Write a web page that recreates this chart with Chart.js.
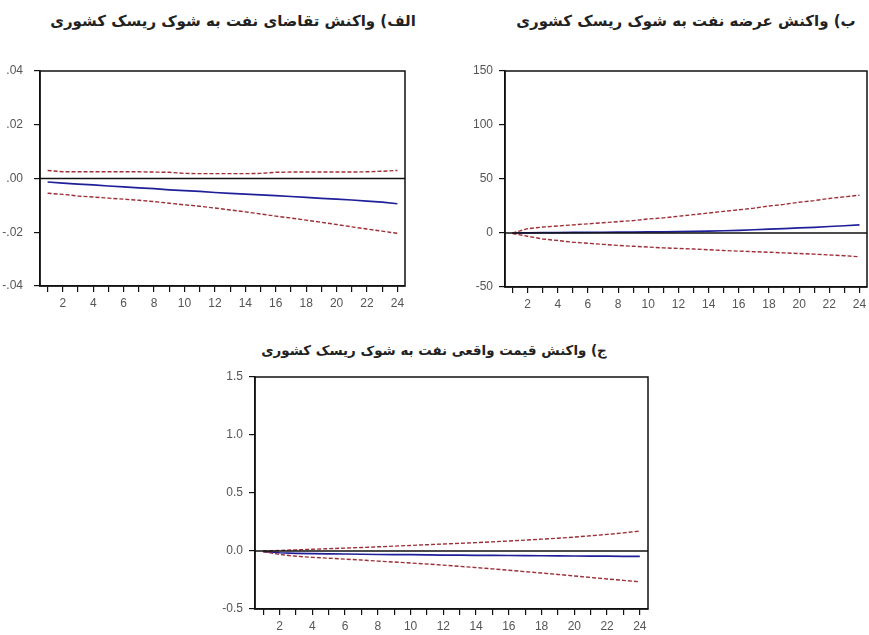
<!DOCTYPE html>
<html>
<head>
<meta charset="utf-8">
<script src="https://cdn.jsdelivr.net/npm/chart.js@4.4.1/dist/chart.umd.min.js"></script>
<style>
  body { margin: 0; background: #fff; width: 869px; height: 635px; position: relative; overflow: hidden; }
  canvas { position: absolute; }
  .title { position: absolute; font-family: "DejaVu Sans", sans-serif; font-weight: bold; font-size: 15px; color: #222; text-align: center; white-space: nowrap; }
</style>
</head>
<body>
<div class="title" dir="rtl" style="left:33px; width:400px; top:12px;">الف) واکنش تقاضای نفت به شوک ریسک کشوری</div>
<div class="title" dir="rtl" style="left:486px; width:400px; top:12px;">ب) واکنش عرضه نفت به شوک ریسک کشوری</div>
<div class="title" dir="rtl" style="left:234px; width:400px; top:343px; font-size:13.4px;">ج) واکنش قیمت واقعی نفت به شوک ریسک کشوری</div>

<canvas id="demand" width="420" height="250" style="left:0px; top:60px;"></canvas>
<canvas id="supply" width="409" height="250" style="left:460px; top:60px;"></canvas>
<canvas id="price" width="460" height="270" style="left:200px; top:365px;"></canvas>

<script>
// periods 1..24
var periods = ['1','2','3','4','5','6','7','8','9','10','11','12','13','14','15','16','17','18','19','20','21','22','23','24'];

// الف) demand response
var demandResp  = [-0.0013,-0.0017,-0.0021,-0.0024,-0.0028,-0.0031,-0.0035,-0.0038,-0.0042,-0.0045,-0.0048,-0.0052,-0.0055,-0.0058,-0.0061,-0.0064,-0.0067,-0.0070,-0.0074,-0.0077,-0.0080,-0.0084,-0.0088,-0.0094];
var demandUpper = [0.0030,0.0025,0.0025,0.0025,0.0025,0.0025,0.0025,0.0024,0.0023,0.0019,0.0018,0.0018,0.0018,0.0018,0.0019,0.0023,0.0024,0.0024,0.0024,0.0024,0.0024,0.0025,0.0027,0.0030];
var demandLower = [-0.0055,-0.0059,-0.0065,-0.0069,-0.0073,-0.0077,-0.0081,-0.0086,-0.0092,-0.0098,-0.0103,-0.0110,-0.0117,-0.0124,-0.0132,-0.0140,-0.0147,-0.0155,-0.0163,-0.0171,-0.0180,-0.0188,-0.0196,-0.0204];

// ب) supply response
var supplyResp  = [0,0.2,0.3,0.4,0.5,0.6,0.7,0.8,0.9,1.0,1.1,1.3,1.5,1.8,2.1,2.5,3.0,3.5,4.1,4.7,5.3,6.0,6.7,7.5];
var supplyUpper = [0,4,5.5,6.5,7.5,8.5,9.5,10.5,11.5,13,14,15.5,17,18.5,20,21.5,23,25,26.5,28.5,30,32,33.5,35];
var supplyLower = [-0.5,-3,-5.5,-7,-8.5,-9.5,-10.5,-11.5,-12.3,-13,-13.8,-14.3,-14.8,-15.5,-16.2,-16.8,-17.3,-17.8,-18.4,-19,-19.6,-20.3,-21,-22];

// ج) real price response
var priceResp  = [-0.005,-0.015,-0.02,-0.022,-0.024,-0.026,-0.028,-0.03,-0.031,-0.032,-0.034,-0.035,-0.036,-0.037,-0.038,-0.039,-0.04,-0.041,-0.042,-0.043,-0.044,-0.045,-0.046,-0.047];
var priceUpper = [0,0.005,0.01,0.015,0.02,0.025,0.03,0.036,0.042,0.048,0.054,0.06,0.066,0.072,0.079,0.086,0.094,0.102,0.11,0.12,0.131,0.143,0.156,0.172];
var priceLower = [-0.005,-0.03,-0.045,-0.055,-0.062,-0.07,-0.078,-0.087,-0.095,-0.103,-0.112,-0.122,-0.132,-0.143,-0.154,-0.166,-0.178,-0.19,-0.202,-0.215,-0.228,-0.241,-0.253,-0.266];

// frame + zero line, like the EViews output
var framePlugin = {
    id: 'frame',
    afterDatasetsDraw: function(chart) {
        var ctx = chart.ctx, a = chart.chartArea;
        var y0 = chart.scales.y.getPixelForValue(0);
        ctx.save();
        ctx.strokeStyle = '#111';
        ctx.lineWidth = 1.5;
        ctx.beginPath();
        ctx.moveTo(a.left, y0);
        ctx.lineTo(a.right, y0);
        ctx.stroke();
        ctx.strokeRect(a.left, a.top, a.right - a.left, a.bottom - a.top);
        ctx.restore();
    }
};

function makeChart(id, resp, upper, lower, yMin, yMax, yStep, fmt, yWidth, yPad, xHeight, padding) {
    return new Chart(document.getElementById(id).getContext('2d'), {
        type: 'line',
        data: {
            labels: periods,
            datasets: [
                { data: upper, borderColor: '#9e2f36', borderWidth: 1.4, borderDash: [4, 2], pointRadius: 0, fill: false },
                { data: lower, borderColor: '#9e2f36', borderWidth: 1.4, borderDash: [4, 2], pointRadius: 0, fill: false },
                { data: resp, borderColor: '#1f1f9a', borderWidth: 1.7, pointRadius: 0, fill: false }
            ]
        },
        options: {
            responsive: false,
            animation: false,
            layout: { padding: padding },
            plugins: { legend: { display: false }, tooltip: { enabled: false } },
            scales: {
                x: {
                    type: 'category',
                    offset: true,
                    grid: { offset: false, drawOnChartArea: false, drawTicks: true, tickLength: 6, color: '#111', lineWidth: 1.2 },
                    border: { display: true, color: '#111', width: 1.5 },
                    ticks: {
                        autoSkip: false, maxRotation: 0, padding: 4,
                        color: '#555', font: { family: 'Liberation Sans', size: 12 },
                        callback: function(v, i) { return (i + 1) % 2 == 0 ? periods[i] : ''; }
                    },
                    afterFit: function(s) { s.height = xHeight; s.paddingLeft = 0; s.paddingRight = 0; }
                },
                y: {
                    min: yMin, max: yMax,
                    grid: { drawOnChartArea: false, drawTicks: true, tickLength: 6, color: '#111', lineWidth: 1.2 },
                    border: { display: true, color: '#111', width: 1.5 },
                    ticks: {
                        stepSize: yStep, padding: yPad,
                        color: '#555', font: { family: 'Liberation Sans', size: 12 },
                        callback: fmt
                    },
                    afterFit: function(s) { s.width = yWidth; s.paddingTop = 0; s.paddingBottom = 0; }
                }
            }
        },
        plugins: [framePlugin]
    });
}

makeChart('demand', demandResp, demandUpper, demandLower, -0.04, 0.04, 0.02,
    function(v) { return v.toFixed(2).replace('0.', '.'); },
    40, 11, 24, { top: 11, right: 15, left: 0, bottom: 0 });

makeChart('supply', supplyResp, supplyUpper, supplyLower, -50, 150, 50,
    function(v) { return String(v); },
    45, 6, 23, { top: 11, right: 2, left: 0, bottom: 0 });

makeChart('price', priceResp, priceUpper, priceLower, -0.5, 1.5, 0.5,
    function(v) { return v.toFixed(1); },
    55, 6, 26, { top: 12, right: 12, left: 0, bottom: 0 });
</script>
</body>
</html>
